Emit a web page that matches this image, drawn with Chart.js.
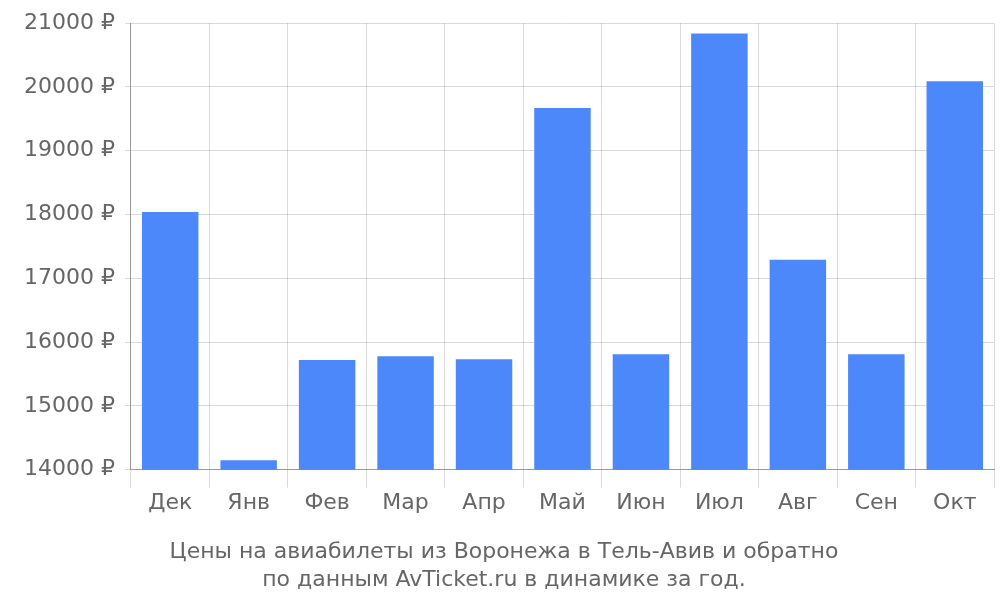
<!DOCTYPE html>
<html>
<head>
<meta charset="utf-8">
<script src="https://cdn.jsdelivr.net/npm/chart.js@4/dist/chart.umd.min.js"></script>
<style>
  html, body { margin: 0; padding: 0; background: #fff; }
  #wrap { width: 1000px; height: 600px; }
</style>
</head>
<body>
<div id="wrap"><canvas id="priceChart"></canvas></div>
<script>
const months = ['Дек', 'Янв', 'Фев', 'Мар', 'Апр', 'Май', 'Июн', 'Июл', 'Авг', 'Сен', 'Окт'];
const prices = [18040, 14150, 15720, 15780, 15730, 19670, 15810, 20840, 17290, 15810, 20090];
const titleLines = ['Цены на авиабилеты из Воронежа в Тель-Авив и обратно', 'по данным AvTicket.ru в динамике за год.'];

const textColor = '#666666';
const gridColor = 'rgba(0, 0, 0, 0.15)';

new Chart(document.getElementById('priceChart'), {
    type: 'bar',
    data: {
        labels: months,
        datasets: [{
            data: prices,
            backgroundColor: '#4d88fb',
            barPercentage: 0.72,
            categoryPercentage: 1
        }]
    },
    options: {
        responsive: true,
        maintainAspectRatio: false,
        animation: false,
        layout: { padding: { top: 5, right: 6, left: 14, bottom: 6 } },
        plugins: {
            legend: { display: false },
            tooltip: { enabled: false },
            title: {
                display: true,
                position: 'bottom',
                text: titleLines,
                color: textColor,
                font: { family: 'DejaVu Sans', size: 22, weight: 'normal', lineHeight: 1.27 },
                padding: { top: 20, bottom: 0 }
            }
        },
        scales: {
            x: {
                grid: { color: gridColor, tickLength: 18 },
                border: { color: '#999' },
                ticks: { color: textColor, font: { family: 'DejaVu Sans', size: 22 }, padding: 2 }
            },
            y: {
                min: 14000,
                max: 21000,
                grid: { color: gridColor, tickLength: 6 },
                border: { color: '#999' },
                ticks: {
                    stepSize: 1000,
                    color: textColor,
                    font: { family: 'DejaVu Sans', size: 22 },
                    padding: 10,
                    callback: (v) => v + ' ₽'
                }
            }
        }
    }
});
</script>
</body>
</html>
